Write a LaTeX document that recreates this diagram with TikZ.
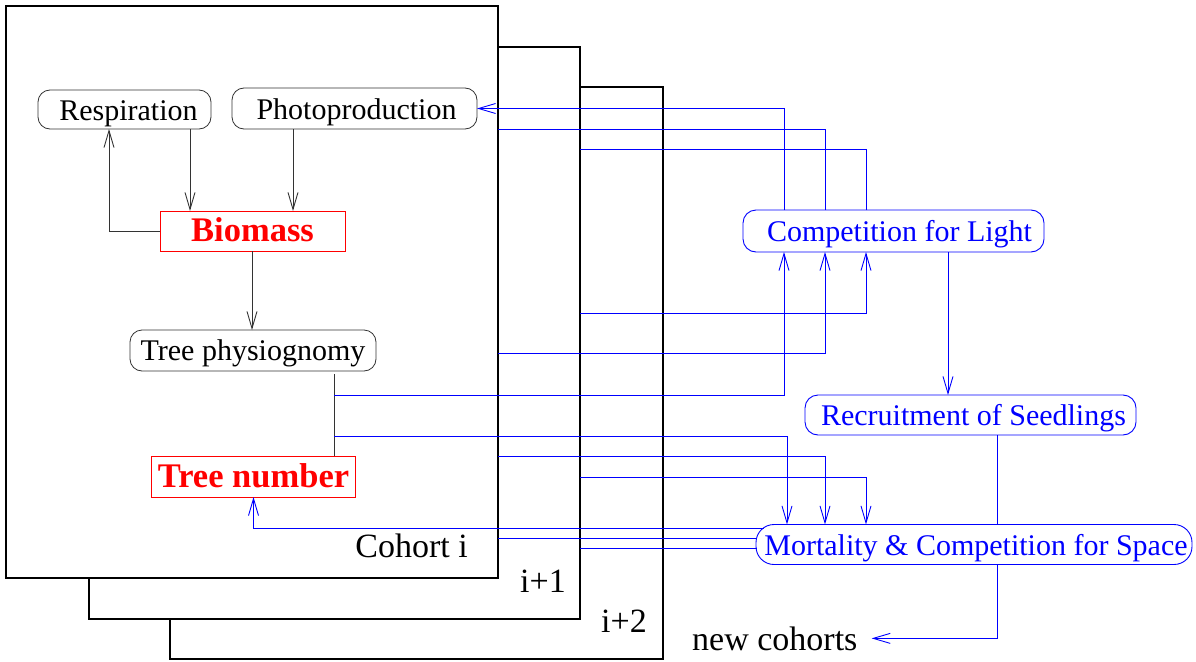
\documentclass[tikz,border=0pt]{standalone}
\usepackage{fontspec}
\setmainfont{Liberation Serif}
\usetikzlibrary{arrows.meta}
\definecolor{pblue}{RGB}{0,0,255}
\definecolor{pred}{RGB}{255,0,0}
\tikzset{
  tip/.tip={Straight Barb[length=17pt,width=10pt,line width=0.9pt]},
  cbox/.style={draw=black,line width=1.8pt,fill=white,outer sep=0pt,inner sep=0pt},
  rbox/.style={draw=black!80,line width=0.8pt,rounded corners=12pt,outer sep=0pt,inner sep=0pt,font=\fontsize{30}{33}\selectfont,text height=22pt,text depth=1pt},
  redbox/.style={draw=pred,line width=0.8pt,outer sep=0pt,inner sep=0pt,text=pred,font=\fontsize{34.5}{38}\selectfont\bfseries,text height=22pt,text depth=1pt},
  bbox/.style={draw=pblue,line width=0.9pt,rounded corners=13pt,outer sep=0pt,inner sep=0pt,text=pblue,font=\fontsize{30}{33}\selectfont,text height=22pt,text depth=1pt},
  lbl/.style={inner sep=0pt,font=\fontsize{34}{38}\selectfont},
  blk/.style={draw=black!80,line width=0.8pt},
  bl/.style={draw=pblue,line width=0.9pt},
}
\begin{document}
\begin{tikzpicture}[x=1pt,y=-1pt]
\useasboundingbox (0,0) rectangle (1196,661);
% cohort boxes
\node[cbox,minimum width=493,minimum height=572] (c2) at (416.5,373) {};
\node[cbox,minimum width=491,minimum height=572] (c1) at (334.5,333) {};
\node[cbox,minimum width=492,minimum height=572] (c0) at (252,292) {};
\node[lbl,anchor=base east] (lc0) at (468,557) {Cohort i};
\node[lbl,anchor=base east] (lc1) at (566,592) {i+1};
\node[lbl,anchor=base east] (lc2) at (647,632) {i+2};
% inner nodes
\node[rbox,minimum width=173,minimum height=39] (resp) at (124.5,109.5) {\hspace*{8pt}Respiration};
\node[rbox,minimum width=245,minimum height=41] (photo) at (354.5,108.5) {\hspace*{4pt}Photoproduction};
\node[redbox,minimum width=185,minimum height=40] (bio) at (252.5,231) {Biomass};
\node[redbox,minimum width=204,minimum height=41,text height=23pt] (num) at (253.5,476.5) {Tree number};
\node[rbox,minimum width=246,minimum height=41,text height=21pt,text depth=2pt] (phys) at (253,350.5) {Tree physiognomy};
% right nodes
\node[bbox,minimum width=301,minimum height=42] (light) at (893.5,231) {\hspace*{12pt}Competition for Light};
\node[bbox,minimum width=331,minimum height=40] (rec) at (970.5,415) {\hspace*{6pt}Recruitment of Seedlings};
\node[bbox,rounded corners=18pt,minimum width=436,minimum height=40] (mort) at (974,544.5) {\hspace*{4pt}Mortality \& Competition for Space};
\node[lbl,anchor=base west,inner xsep=0pt] (nc) at (692,650) {new cohorts};
% black connectors
\draw[blk,-tip] (190,0 |- resp.south) -- (190,0 |- bio.north);
\draw[blk,-tip] (293,0 |- photo.south) -- (293,0 |- bio.north);
\draw[blk,-tip] (bio.west) -| (109,0 |- resp.south);
\draw[blk,-tip] (bio.south -| 252,0) -- (252,0 |- phys.north);
\draw[blk,shorten <=3pt] (334,0 |- phys.south) -- (334,0 |- num.north);
\coordinate (tp1) at (334,395);
\coordinate (tp2) at (334,436);
% blue connectors, top of Competition for Light
\draw[bl,-tip] (784,0 |- light.north) |- (photo.east);
\draw[bl] (825,0 |- light.north) |- (c0.east |- 0,129);
\draw[bl] (866,0 |- light.north) |- (c1.east |- 0,149);
% into Competition for Light
\draw[bl,-tip] (c1.east |- 0,313) -| (866,0 |- light.south);
\draw[bl,-tip] (c0.east |- 0,353) -| (825,0 |- light.south);
\draw[bl,-tip] (tp1) -| (784,0 |- light.south);
% into Mortality
\draw[bl,-tip] (tp2) -| (787,0 |- mort.north);
\draw[bl,-tip] (c0.east |- 0,456) -| (825,0 |- mort.north);
\draw[bl,-tip] (c1.east |- 0,477) -| (866,0 |- mort.north);
% from Mortality
\draw[bl,-tip] (764,528) -| (num.south);
\draw[bl] (c0.east |- 0,538) -- (757,538);
\draw[bl] (c1.east |- 0,548) -- (757,548);
% competition -> recruitment -> mortality -> new cohorts
\draw[bl,-tip] (948,0 |- light.south) -- (948,0 |- rec.north);
\draw[bl] (997,0 |- rec.south) -- (997,0 |- mort.north);
\draw[bl,-tip,shorten >=14pt] (997,0 |- mort.south) |- (nc.east);
\end{tikzpicture}
\end{document}
